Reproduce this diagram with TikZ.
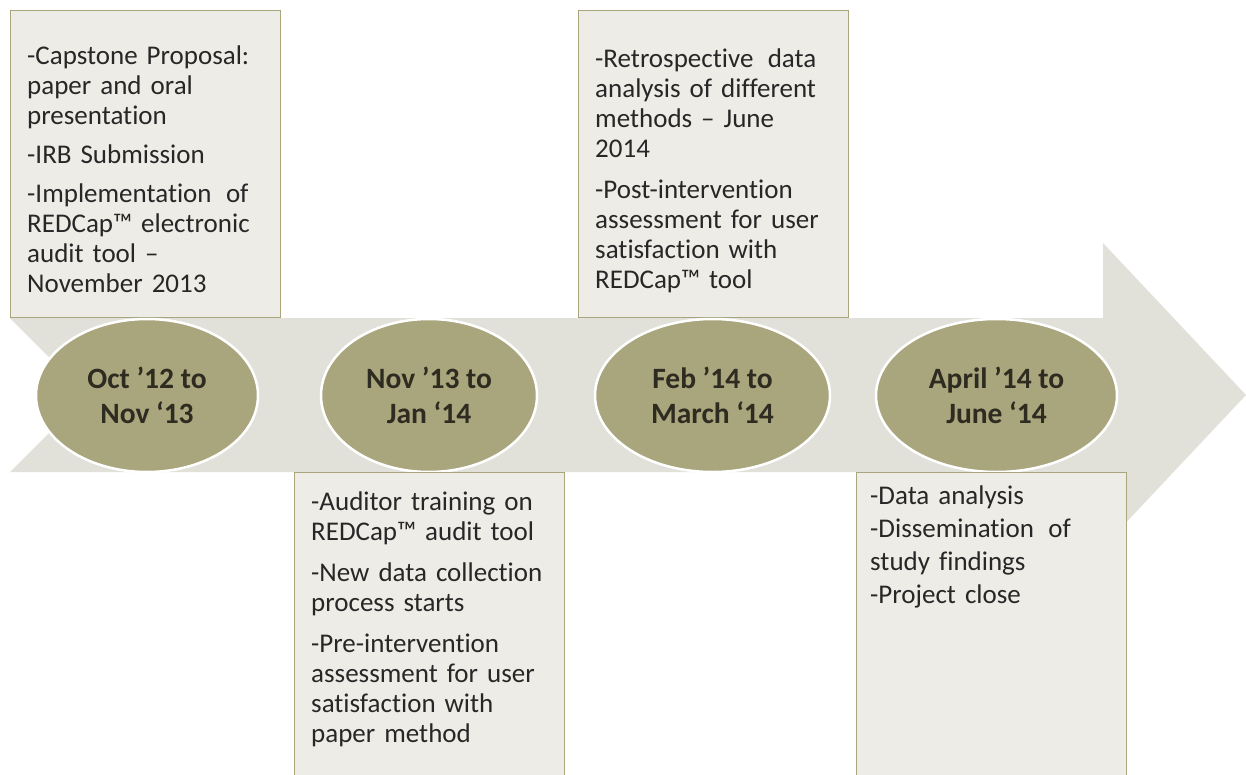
\documentclass[tikz,border=0pt]{standalone}
\usepackage{fontspec}
\setmainfont{Carlito}[Ligatures=NoCommon]
\usetikzlibrary{shapes.geometric}
\definecolor{band}{HTML}{E1E0D9}
\definecolor{olive}{HTML}{A9A57D}
\definecolor{boxfill}{HTML}{EDECE6}
\definecolor{txt}{HTML}{272727}
\definecolor{etxt}{HTML}{2E2B20}
\begin{document}
\begin{tikzpicture}[x=1pt,y=-1pt,
  phase/.style={ellipse, draw=white, line width=2.5pt, fill=olive, minimum height=153pt,
    inner sep=0pt, align=center, text=etxt, font=\fontsize{29.5}{35}\selectfont\bfseries},
  infobox/.style={rectangle, draw=olive, line width=1.3pt, fill=boxfill, inner sep=0pt, anchor=north west},
  infotext/.style={anchor=north west, inner sep=0pt, text width=300pt, align=left, text=txt,
    font=\fontsize{27}{30}\selectfont}
]
\useasboundingbox (0,0) rectangle (1246,775);
\clip (0,0) rectangle (1246,775);
% timeline arrow
\fill[band] (10,318) -- (1103,318) -- (1103,243) -- (1246,395) -- (1103,547)
  -- (1103,472) -- (10,472) -- (87,395) -- cycle;
% upper boxes
\node[infobox, minimum width=270pt, minimum height=307pt] (b1) at (10,10) {};
\node[infobox, minimum width=270pt, minimum height=307pt] (b3) at (578,10) {};
% phases
\node[phase, minimum width=222pt] (e1) at (147,395.5) {Oct ’12 to\\Nov ‘13};
\node[phase, minimum width=216pt] (e2) at (429,395.5) {Nov ’13 to\\Jan ‘14};
\node[phase, minimum width=235pt] (e3) at (712.5,395.5) {Feb ’14 to\\March ‘14};
\node[phase, minimum width=241pt] (e4) at (996.5,395.5) {April ’14 to\\June ‘14};
% lower boxes
\node[infobox, minimum width=270pt, minimum height=320pt] (b2) at (294,472) {};
\node[infobox, minimum width=270pt, minimum height=320pt] (b4) at (856,472) {};
% texts
\node[infotext] (t1) at (27,43) {\strut-Capstone Proposal:\\paper and oral\\presentation\\[9pt]-IRB Submission\\[9pt]-Implementation\hspace{0.2em} of\\REDCap™ electronic\\audit tool –\\November 2013};
\node[infotext] (t3) at (595,46) {\strut-Retrospective\hspace{0.2em} data\\analysis of different\\methods – June\\2014\\[11pt]-Post-intervention\\assessment for user\\satisfaction with\\REDCap™ tool};
\node[infotext] (t2) at (311,489) {\strut-Auditor training on\\REDCap™ audit tool\\[11pt]-New data collection\\process starts\\[11pt]-Pre-intervention\\assessment for user\\satisfaction with\\paper method};
\node[infotext, font=\fontsize{27}{33}\selectfont] (t4) at (870,481) {\strut-Data analysis\\-Dissemination\hspace{0.2em} of\\study findings\\-Project close};
\end{tikzpicture}
\end{document}
